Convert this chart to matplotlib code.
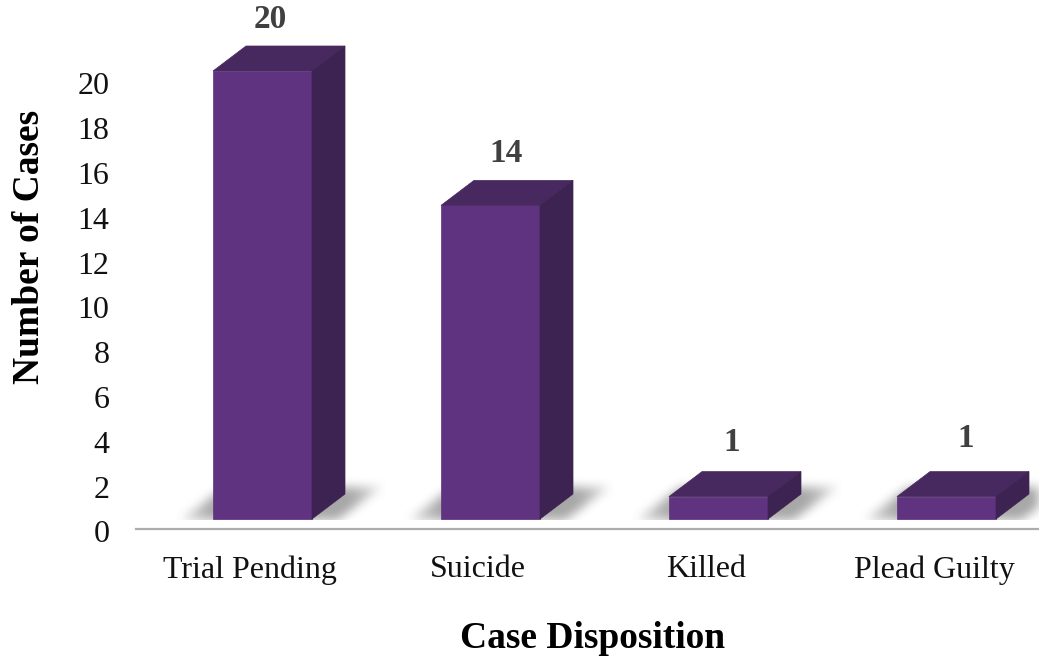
import numpy as np
import matplotlib
matplotlib.use("Agg")
import matplotlib.pyplot as plt
from matplotlib.transforms import ScaledTranslation

categories = ["Trial Pending", "Suicide", "Killed", "Plead Guilty"]
cases = [20, 14, 1, 1]
y_ticks = list(range(0, 21, 2))

# picture geometry, pixels
W, H = 1039, 659
AX_LEFT, AX_BASE = 136, 529
SLOT = 228.0
PX_Y = 22.4

# value label nudges in pixels from the top of the front face (they sit unevenly in the original)
label_dx = [8, 16, 13, 19]
label_dy = [51, 52, 54, 58]

FRONT = "#5F3380"
TOP = "#47295F"
SIDE = "#3C2351"

plt.rcParams["font.family"] = ["Liberation Serif", "DejaVu Serif"]

fig = plt.figure(figsize=(W / 100, H / 100), dpi=100)
ax = fig.add_axes([AX_LEFT / W, 1 - AX_BASE / H, (W - AX_LEFT) / W, AX_BASE / H])
xlim = (-0.5, -0.5 + (W - AX_LEFT) / SLOT)
ylim = (0, AX_BASE / PX_Y)

# bar box, converted from pixels to data units
bar_w = 99 / SLOT
shift_x = 12.5 / SLOT
base_y = 10 / PX_Y
depth_x = 33 / SLOT
depth_y = 25 / PX_Y


def blur(a, n):
    k = np.hanning(n + 2)[1:-1]
    k = k / k.sum()
    a = np.apply_along_axis(lambda r: np.convolve(r, k, mode="same"), 0, a)
    a = np.apply_along_axis(lambda r: np.convolve(r, k, mode="same"), 1, a)
    return a


# soft floor shadow, worked out on a pixel grid
px = np.arange(W - AX_LEFT) + 0.5
py = np.arange(AX_BASE) + 0.5
gx, gy = np.meshgrid(px + AX_LEFT, py)
shadow = np.zeros(gx.shape)
for i in range(len(cases)):
    left = AX_LEFT + (i + 0.5) * SLOT + 12.5 - 49.5
    right = left + 99
    h = 519.5 - gy  # height above the bar foot
    skew = h * 1.35
    inside = (h >= 0) & (h <= 32) & (gx >= left - 32 + skew) & (gx <= right + 26 + skew)
    # gets lighter away from the bar on both sides
    fade_l = np.clip((gx - (left - 48)) / 48, 0, 1)
    fade_r = np.clip((right + 88 - gx) / 50, 0, 1)
    shadow = np.maximum(shadow, inside * fade_l * fade_r)
shadow = blur(shadow, 25)
shadow[py > 520] = 0
rgba = np.zeros(gx.shape + (4,))
rgba[..., :3] = 0.45
rgba[..., 3] = np.clip(shadow * 0.62, 0, 1)
ax.imshow(rgba, extent=(xlim[0], xlim[1], ylim[0], ylim[1]), origin="upper",
          aspect="auto", zorder=1, interpolation="bilinear")

for i, v in enumerate(cases):
    x0 = i + shift_x - bar_w / 2
    x1 = x0 + bar_w
    y0 = base_y
    y1 = base_y + v
    ax.fill([x0, x1, x1, x0], [y0, y0, y1, y1], color=FRONT, lw=0.5, zorder=3)
    ax.fill([x0, x1, x1 + depth_x, x0 + depth_x],
            [y1, y1, y1 + depth_y, y1 + depth_y], color=TOP, lw=0.5, zorder=3)
    ax.fill([x1, x1 + depth_x, x1 + depth_x, x1],
            [y0, y0 + depth_y, y1 + depth_y, y1], color=SIDE, lw=0.5, zorder=3)
    ax.annotate(str(v), (i + shift_x, y1), xytext=(label_dx[i], label_dy[i]),
                textcoords="offset pixels", ha="center", va="center",
                fontsize=24, fontweight="bold", color="#404040",
                annotation_clip=False)

ax.set_xlim(xlim)
ax.set_ylim(ylim)
ax.set_xticks(range(len(categories)))
ax.set_xticklabels(categories)
ax.set_yticks(y_ticks)
ax.set_yticklabels(y_ticks, va="center")
ax.tick_params(axis="both", length=0, labelsize=23, labelcolor="#111111")
ax.tick_params(axis="x", pad=19)
ax.tick_params(axis="y", pad=19)
# y labels sit a little below their tick position in the original
nudge = ScaledTranslation(0, -6 / 100, fig.dpi_scale_trans)
for lab in ax.get_yticklabels():
    lab.set_transform(lab.get_transform() + nudge)
for s in ["top", "right", "left"]:
    ax.spines[s].set_visible(False)
ax.spines["bottom"].set_color("#ADADAD")
ax.spines["bottom"].set_linewidth(1.6)

fig.text(30 / W, 1 - 247 / H, "Number of Cases", rotation=90, ha="center", va="center",
         fontsize=27, fontweight="bold", color="black")
fig.text(593 / W, 1 - 639 / H, "Case Disposition", ha="center", va="center",
         fontsize=27, fontweight="bold", color="black")

fig.savefig("out.png", dpi=100)
